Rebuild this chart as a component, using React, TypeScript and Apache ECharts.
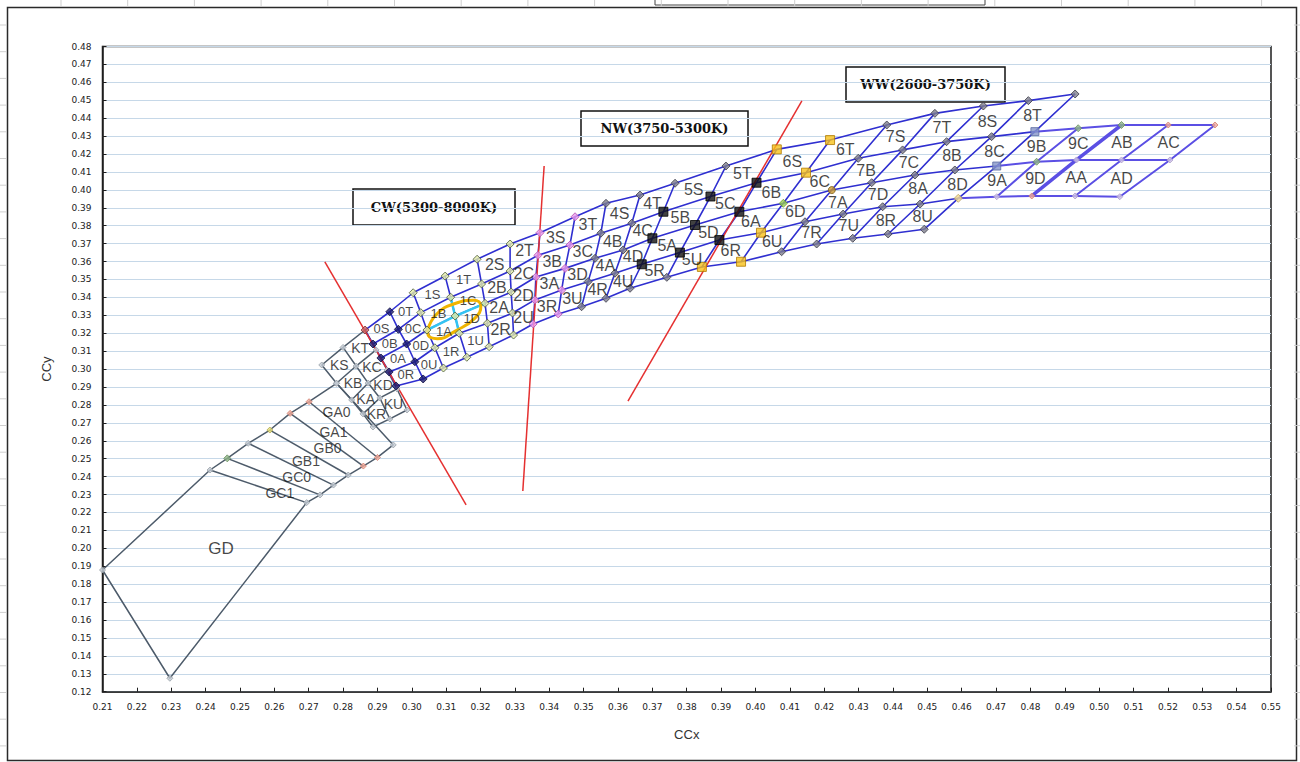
import React, { useEffect, useRef } from "react";
import * as echarts from "echarts";

// ---------- axes ----------
const X_MIN = 0.21;
const X_MAX = 0.55;
const X_STEP = 0.01;
const Y_MIN = 0.12;
const Y_MAX = 0.48;
const Y_STEP = 0.01;

// ---------- main bin band: transverse lines T0..T18, nodes L0 (bottom) .. L4 (top) ----------
const bandX: number[][] = [
  [0.2954, 0.2934, 0.291, 0.2887, 0.2864],
  [0.3033, 0.3009, 0.2985, 0.2961, 0.2936],
  [0.3092, 0.3067, 0.3044, 0.3026, 0.3004],
  [0.316, 0.3138, 0.3126, 0.3113, 0.3097],
  [0.3225, 0.322, 0.3213, 0.3203, 0.319],
  [0.3296, 0.3293, 0.3289, 0.3286, 0.3286],
  [0.3353, 0.3358, 0.3361, 0.3367, 0.3373],
  [0.3426, 0.3436, 0.3446, 0.346, 0.3475],
  [0.3494, 0.3513, 0.3533, 0.355, 0.3565],
  [0.3565, 0.3591, 0.3615, 0.364, 0.3664],
  [0.3635, 0.3669, 0.37, 0.3732, 0.3766],
  [0.3742, 0.378, 0.3824, 0.3869, 0.3914],
  [0.3844, 0.3895, 0.3953, 0.4003, 0.4062],
  [0.3958, 0.4016, 0.4081, 0.4147, 0.4217],
  [0.4076, 0.4144, 0.4222, 0.4299, 0.4382],
  [0.4178, 0.4255, 0.4338, 0.4428, 0.4522],
  [0.4283, 0.437, 0.4464, 0.4556, 0.4663],
  [0.4386, 0.4479, 0.458, 0.4687, 0.4794],
  [0.4491, 0.459, 0.4702, 0.4813, 0.493],
];
const bandY: number[][] = [
  [0.2906, 0.2984, 0.3062, 0.314, 0.3218],
  [0.2945, 0.3041, 0.314, 0.3222, 0.332],
  [0.3006, 0.3119, 0.3218, 0.3315, 0.3426],
  [0.3066, 0.32, 0.3296, 0.3401, 0.3519],
  [0.3125, 0.3256, 0.3367, 0.3475, 0.3613],
  [0.319, 0.3313, 0.343, 0.3547, 0.3698],
  [0.3252, 0.3386, 0.3514, 0.3635, 0.3761],
  [0.3308, 0.3441, 0.3562, 0.3692, 0.385],
  [0.3348, 0.3488, 0.3618, 0.3758, 0.3925],
  [0.3395, 0.3535, 0.3665, 0.3814, 0.3971],
  [0.3451, 0.3585, 0.373, 0.3878, 0.4037],
  [0.3512, 0.365, 0.3804, 0.3963, 0.4133],
  [0.357, 0.372, 0.3878, 0.404, 0.4226],
  [0.3599, 0.3761, 0.3925, 0.4096, 0.4278],
  [0.3655, 0.3822, 0.3999, 0.4176, 0.4362],
  [0.3698, 0.3865, 0.404, 0.4223, 0.4427],
  [0.373, 0.3906, 0.4083, 0.4269, 0.4468],
  [0.3754, 0.3921, 0.4111, 0.4297, 0.4498],
  [0.378, 0.3953, 0.4133, 0.4325, 0.4535],
];
const bandBins = ["0", "1", "2", "3", "4", "5", "6", "7", "8"];
const rowNames = [
  ["R", "U"],
  ["A", "D"],
  ["B", "C"],
  ["S", "T"],
];

// ---------- 9 / A extension: columns U1..U4 (U0 = T18), nodes on L1..L3 ----------
const extX: number[][] = [
  [0.4702, 0.4818, 0.4939],
  [0.4804, 0.4934, 0.5065],
  [0.493, 0.5065, 0.5201],
  [0.506, 0.5206, 0.5337],
];
const extY: number[][] = [
  [0.3962, 0.4157, 0.4344],
  [0.3966, 0.4167, 0.4362],
  [0.3966, 0.4167, 0.4362],
  [0.3962, 0.4167, 0.4362],
];
const extBins = ["9", "A"];

// ---------- K bin: left / middle / right transverse lines, nodes L0..L4 ----------
const kX: number[][] = [
  [0.2887, 0.2858, 0.2825, 0.2781, 0.2738],
  [0.2936, 0.2907, 0.2873, 0.2838, 0.28],
  [0.2986, 0.2957, 0.2928, 0.2896, 0.2864],
];
const kY: number[][] = [
  [0.2677, 0.275, 0.2828, 0.2921, 0.3023],
  [0.2722, 0.2839, 0.2922, 0.3017, 0.3121],
  [0.2772, 0.2889, 0.2995, 0.3107, 0.3218],
];

// ---------- G bins ----------
const gLeftX = [0.2781, 0.2701, 0.2646, 0.2587, 0.2524, 0.2463, 0.2413];
const gLeftY = [0.2921, 0.2818, 0.2753, 0.266, 0.2586, 0.2502, 0.2437];
const gRightX = [0.2946, 0.29, 0.2859, 0.2815, 0.2772, 0.2733, 0.2694];
const gRightY = [0.2577, 0.2507, 0.2459, 0.2409, 0.2353, 0.2298, 0.2255];
const gdTailX = [0.21, 0.2296];
const gdTailY = [0.1879, 0.1275];
const gLabels = ["GA0", "GA1", "GB0", "GB1", "GC0", "GC1", "GD"];
const gLabelX = [0.2781, 0.2772, 0.2755, 0.2692, 0.2665, 0.2616, 0.2445];
const gLabelY = [0.2762, 0.2651, 0.256, 0.249, 0.24, 0.2307, 0.2];

// ---------- red CCT boundary lines ----------
const redLineX = [
  [0.2747, 0.3158],
  [0.3385, 0.3323],
  [0.4135, 0.3629],
];
const redLineY = [
  [0.3598, 0.2242],
  [0.4133, 0.232],
  [0.4496, 0.2822],
];

// ---------- highlighted oval around 1A-1D ----------
const ovalX = [0.3046, 0.3074, 0.3126, 0.318, 0.3201, 0.3183, 0.3129, 0.3074, 0.3048, 0.3046];
const ovalY = [0.3218, 0.331, 0.3366, 0.3384, 0.3352, 0.3283, 0.3215, 0.317, 0.3188, 0.3218];

// ---------- zone titles ----------
const zoneTitles = ["CW(5300-8000K)", "NW(3750-5300K)", "WW(2600-3750K)"];

// ---------- marker styles (per node) ----------
const markerStyles: Record<string, { symbol: string; size: number; color: string; border: string }> = {
  n: { symbol: "diamond", size: 8, color: "#1b1b70", border: "#0c0c40" },
  r: { symbol: "diamond", size: 8, color: "#c86060", border: "#803030" },
  y: { symbol: "diamond", size: 8, color: "#e4eca8", border: "#4a5a3a" },
  p: { symbol: "diamond", size: 8, color: "#ec9cec", border: "#b050b0" },
  g: { symbol: "diamond", size: 8, color: "#80808c", border: "#3a3a48" },
  b: { symbol: "rect", size: 9, color: "#111111", border: "#000000" },
  o: { symbol: "rect", size: 9, color: "#f7c21a", border: "#b07a00" },
  G: { symbol: "diamond", size: 8, color: "#9acd50", border: "#6a9a30" },
  B: { symbol: "circle", size: 7, color: "#c9992e", border: "#7a5a10" },
  Y: { symbol: "diamond", size: 8, color: "#f2dc90", border: "#b8a060" },
  q: { symbol: "rect", size: 8, color: "#8595c8", border: "#5a6aa0" },
  x: { symbol: "diamond", size: 6, color: "#d2c6e6", border: "#a898c8" },
  m: { symbol: "diamond", size: 7, color: "#8fb486", border: "#6a9060" },
  s: { symbol: "diamond", size: 6, color: "#f2aa9a", border: "#d08070" },
  k: { symbol: "diamond", size: 6, color: "#c4ccd4", border: "#98a0a8" },
  e: { symbol: "diamond", size: 6, color: "#e6e07a", border: "#b0aa50" },
};
const bandMarkerCodes = [
  "nnnnr", "nnnnn", "yyyyy", "yyyyy", "yyyyy", "yyyyy", "ppppp", "ppppp", "ggggg", "ggggg",
  "gbbbg", "gbbbg", "obbbo", "ooGoo", "ggBgg", "ggggg", "ggggg", "ggggg", "gYqqg",
];
const extMarkerCodes = ["xmm", "sxm", "xxs", "xxs"];
const gLeftCodes = "kssekmk";
const gRightCodes = "ksskkkk";

function buildOption() {
  const series: any[] = [];
  const addLine = (pts: number[][], color: string, width: number, z: number, smooth = false) => {
    series.push({
      type: "line",
      data: pts,
      symbol: "none",
      smooth,
      silent: true,
      z,
      lineStyle: { color, width },
      emphasis: { disabled: true },
    });
  };
  const bn = (t: number, l: number) => [bandX[t][l], bandY[t][l]];
  const en = (u: number, l: number) => [extX[u][l - 1], extY[u][l - 1]]; // l in 1..3
  const kn = (c: number, l: number) => [kX[c][l], kY[c][l]];
  const gl = (i: number) => [gLeftX[i], gLeftY[i]];
  const gr = (i: number) => [gRightX[i], gRightY[i]];
  const nT = bandX.length;

  // G region
  const gOutline: number[][] = [];
  gLeftX.forEach((_, i) => gOutline.push(gl(i)));
  gOutline.push([gdTailX[0], gdTailY[0]]);
  gOutline.push([gdTailX[1], gdTailY[1]]);
  for (let i = gRightX.length - 1; i >= 0; i--) gOutline.push(gr(i));
  gOutline.push(gl(0));
  addLine(gOutline, "#4d5b6a", 1.5, 2);
  for (let i = 1; i < gLeftX.length; i++) addLine([gl(i), gr(i)], "#4d5b6a", 1.5, 2);

  // K region
  for (let l = 0; l < 5; l++) addLine([kn(0, l), kn(1, l), kn(2, l)], "#4d5b6a", 1.5, 2);
  for (let c = 0; c < 3; c++) addLine([0, 1, 2, 3, 4].map((l) => kn(c, l)), "#4d5b6a", 1.5, 2);

  // main band
  for (let l = 0; l < 5; l++) {
    const pts: number[][] = [];
    for (let t = 0; t < nT; t++) pts.push(bn(t, l));
    addLine(pts, "#2f2fd0", 1.6, 3);
  }
  for (let t = 0; t < nT; t++) addLine([0, 1, 2, 3, 4].map((l) => bn(t, l)), "#2f2fd0", 1.6, 3);

  // 9 / A extension
  for (let l = 1; l <= 3; l++) {
    const pts = [bn(nT - 1, l)];
    for (let u = 0; u < extX.length; u++) pts.push(en(u, l));
    addLine(pts, "#5b4fe4", 2, 3);
  }
  for (let u = 0; u < extX.length; u++)
    addLine([1, 2, 3].map((l) => en(u, l)), "#5b4fe4", u === 1 ? 3.5 : 2, 3);

  // red boundaries
  redLineX.forEach((xs, i) =>
    addLine(xs.map((x, j) => [x, redLineY[i][j]]), "#e53030", 1.5, 4)
  );

  // cyan cross and yellow oval highlight
  addLine([bn(2, 2), bn(3, 2), bn(4, 2)], "#33c4f2", 2.5, 5);
  addLine([bn(3, 1), bn(3, 2), bn(3, 3)], "#33c4f2", 2.5, 5);
  addLine(ovalX.map((x, i) => [x, ovalY[i]]), "#f0b400", 3, 5, true);

  // markers
  const markers: any[] = [];
  const pushMarker = (p: number[], code: string) => {
    const s = markerStyles[code];
    markers.push({
      value: p,
      symbol: s.symbol,
      symbolSize: s.size,
      itemStyle: { color: s.color, borderColor: s.border, borderWidth: 1 },
    });
  };
  for (let i = 0; i < gLeftX.length; i++) pushMarker(gl(i), gLeftCodes[i]);
  for (let i = 0; i < gRightX.length; i++) pushMarker(gr(i), gRightCodes[i]);
  pushMarker([gdTailX[0], gdTailY[0]], "k");
  pushMarker([gdTailX[1], gdTailY[1]], "k");
  for (let c = 0; c < 3; c++) for (let l = 0; l < 5; l++) if (!(c === 2 && l === 4)) pushMarker(kn(c, l), "k");
  for (let u = 0; u < extX.length; u++) for (let l = 1; l <= 3; l++) pushMarker(en(u, l), extMarkerCodes[u][l - 1]);
  for (let t = 0; t < nT; t++) for (let l = 0; l < 5; l++) pushMarker(bn(t, l), bandMarkerCodes[t][l]);
  series.push({
    type: "scatter",
    data: markers,
    silent: true,
    z: 8,
    emphasis: { disabled: true },
  });

  // cell labels (centroids of cells)
  const labels: any[] = [];
  const centroid = (pts: number[][]) => [
    pts.reduce((a, p) => a + p[0], 0) / pts.length,
    pts.reduce((a, p) => a + p[1], 0) / pts.length,
  ];
  bandBins.forEach((b, bi) => {
    for (let r = 0; r < 4; r++)
      for (let c = 0; c < 2; c++) {
        const t0 = bi * 2 + c;
        const t1 = t0 + 1;
        labels.push({
          name: b + rowNames[r][c],
          value: centroid([bn(t0, r), bn(t1, r), bn(t1, r + 1), bn(t0, r + 1)]),
          label: { fontSize: bi < 2 ? 13 : 16 },
        });
      }
  });
  const extCol = (k: number, l: number) => (k === 0 ? bn(nT - 1, l) : en(k - 1, l));
  extBins.forEach((b, bi) => {
    for (let r = 1; r <= 2; r++)
      for (let c = 0; c < 2; c++) {
        const k0 = bi * 2 + c;
        const k1 = k0 + 1;
        labels.push({
          name: b + rowNames[r][c],
          value: centroid([extCol(k0, r), extCol(k1, r), extCol(k1, r + 1), extCol(k0, r + 1)]),
          label: { fontSize: 16 },
        });
      }
  });
  for (let r = 0; r < 4; r++)
    for (let c = 0; c < 2; c++) {
      labels.push({
        name: "K" + rowNames[r][c],
        value: centroid([kn(c, r), kn(c + 1, r), kn(c + 1, r + 1), kn(c, r + 1)]),
        label: { fontSize: 14 },
      });
    }
  gLabels.forEach((g, i) =>
    labels.push({ name: g, value: [gLabelX[i], gLabelY[i]], label: { fontSize: g === "GD" ? 17 : 14 } })
  );
  series.push({
    type: "scatter",
    data: labels,
    symbolSize: 1,
    silent: true,
    z: 10,
    itemStyle: { color: "rgba(0,0,0,0)" },
    label: {
      show: true,
      position: "inside",
      formatter: "{b}",
      color: "#161616",
      fontFamily: "Liberation Sans, Arial, sans-serif",
    },
    emphasis: { disabled: true },
  });

  // graphic decorations
  const graphics: any[] = [];
  graphics.push({
    type: "rect",
    z: -10,
    silent: true,
    shape: { x: 7.5, y: 7.5, width: 1289, height: 753 },
    style: { fill: "none", stroke: "#2a2a2a", lineWidth: 1.5 },
  });
  graphics.push({
    type: "rect",
    z: -10,
    silent: true,
    shape: { x: 655, y: -4, width: 330, height: 9 },
    style: { fill: "none", stroke: "#444", lineWidth: 1 },
  });
  for (let i = 0; i < 20; i++)
    graphics.push({
      type: "line",
      silent: true,
      z: -10,
      shape: { x1: 61 + i * 66.7, y1: 0, x2: 61 + i * 66.7, y2: 6 },
      style: { stroke: "#cfcfcf", lineWidth: 1 },
    });
  for (let i = 0; i < 28; i++) {
    graphics.push({
      type: "line",
      silent: true,
      z: -10,
      shape: { x1: 0, y1: 25 + i * 26.7, x2: 6, y2: 25 + i * 26.7 },
      style: { stroke: "#cfcfcf", lineWidth: 1 },
    });
    graphics.push({
      type: "line",
      silent: true,
      z: -10,
      shape: { x1: 1294, y1: 25 + i * 26.7, x2: 1300, y2: 25 + i * 26.7 },
      style: { stroke: "#cfcfcf", lineWidth: 1 },
    });
  }
  const boxes = [
    { x: 353, y: 189, w: 162, h: 36 },
    { x: 581, y: 111, w: 167, h: 35 },
    { x: 846, y: 67, w: 159, h: 35 },
  ];
  zoneTitles.forEach((t, i) => {
    const b = boxes[i];
    graphics.push({
      type: "group",
      z: 100,
      silent: true,
      children: [
        {
          type: "rect",
          shape: { x: b.x, y: b.y, width: b.w, height: b.h },
          style: { fill: "#ffffff", stroke: "#111111", lineWidth: 1.5 },
        },
        {
          type: "text",
          x: b.x + b.w / 2,
          y: b.y + b.h / 2,
          style: {
            text: t,
            fill: "#111111",
            font: "bold 13px 'DejaVu Serif', serif",
            align: "center",
            verticalAlign: "middle",
          },
        },
      ],
    });
  });

  const axisCommon = {
    type: "value",
    axisLine: { show: true, lineStyle: { color: "#1e1e1e", width: 1.5 } },
    axisTick: { show: true, inside: true, length: 4, lineStyle: { color: "#1e1e1e" } },
    axisLabel: {
      fontSize: 9,
      color: "#222222",
      margin: 11,
      fontFamily: "DejaVu Sans, sans-serif",
      formatter: (v: number) => v.toFixed(2),
    },
    nameLocation: "middle",
    nameTextStyle: { fontSize: 13, color: "#333", fontFamily: "Liberation Sans, Arial, sans-serif" },
  };

  return {
    animation: false,
    backgroundColor: "#ffffff",
    grid: {
      left: 102.5,
      top: 46.5,
      width: 1168.5,
      height: 645.2,
      show: true,
      borderColor: "#1e1e1e",
      borderWidth: 1.5,
      backgroundColor: "#ffffff",
    },
    xAxis: {
      ...axisCommon,
      min: X_MIN,
      max: X_MAX,
      interval: X_STEP,
      name: "CCx",
      nameGap: 36,
      splitLine: { show: false },
    },
    yAxis: {
      ...axisCommon,
      min: Y_MIN,
      max: Y_MAX,
      interval: Y_STEP,
      name: "CCy",
      nameGap: 50,
      splitLine: { show: true, lineStyle: { color: "#c6d8e8", width: 1 } },
    },
    graphic: graphics,
    series,
  };
}

export default function App() {
  const ref = useRef<HTMLDivElement>(null);
  useEffect(() => {
    if (!ref.current) return;
    const chart = echarts.init(ref.current, null, { renderer: "svg" });
    chart.setOption(buildOption() as any);
    return () => chart.dispose();
  }, []);
  return (
    <div
      ref={ref}
      style={{ position: "absolute", left: 0, top: 0, width: 1300, height: 762, background: "#fff" }}
    />
  );
}
